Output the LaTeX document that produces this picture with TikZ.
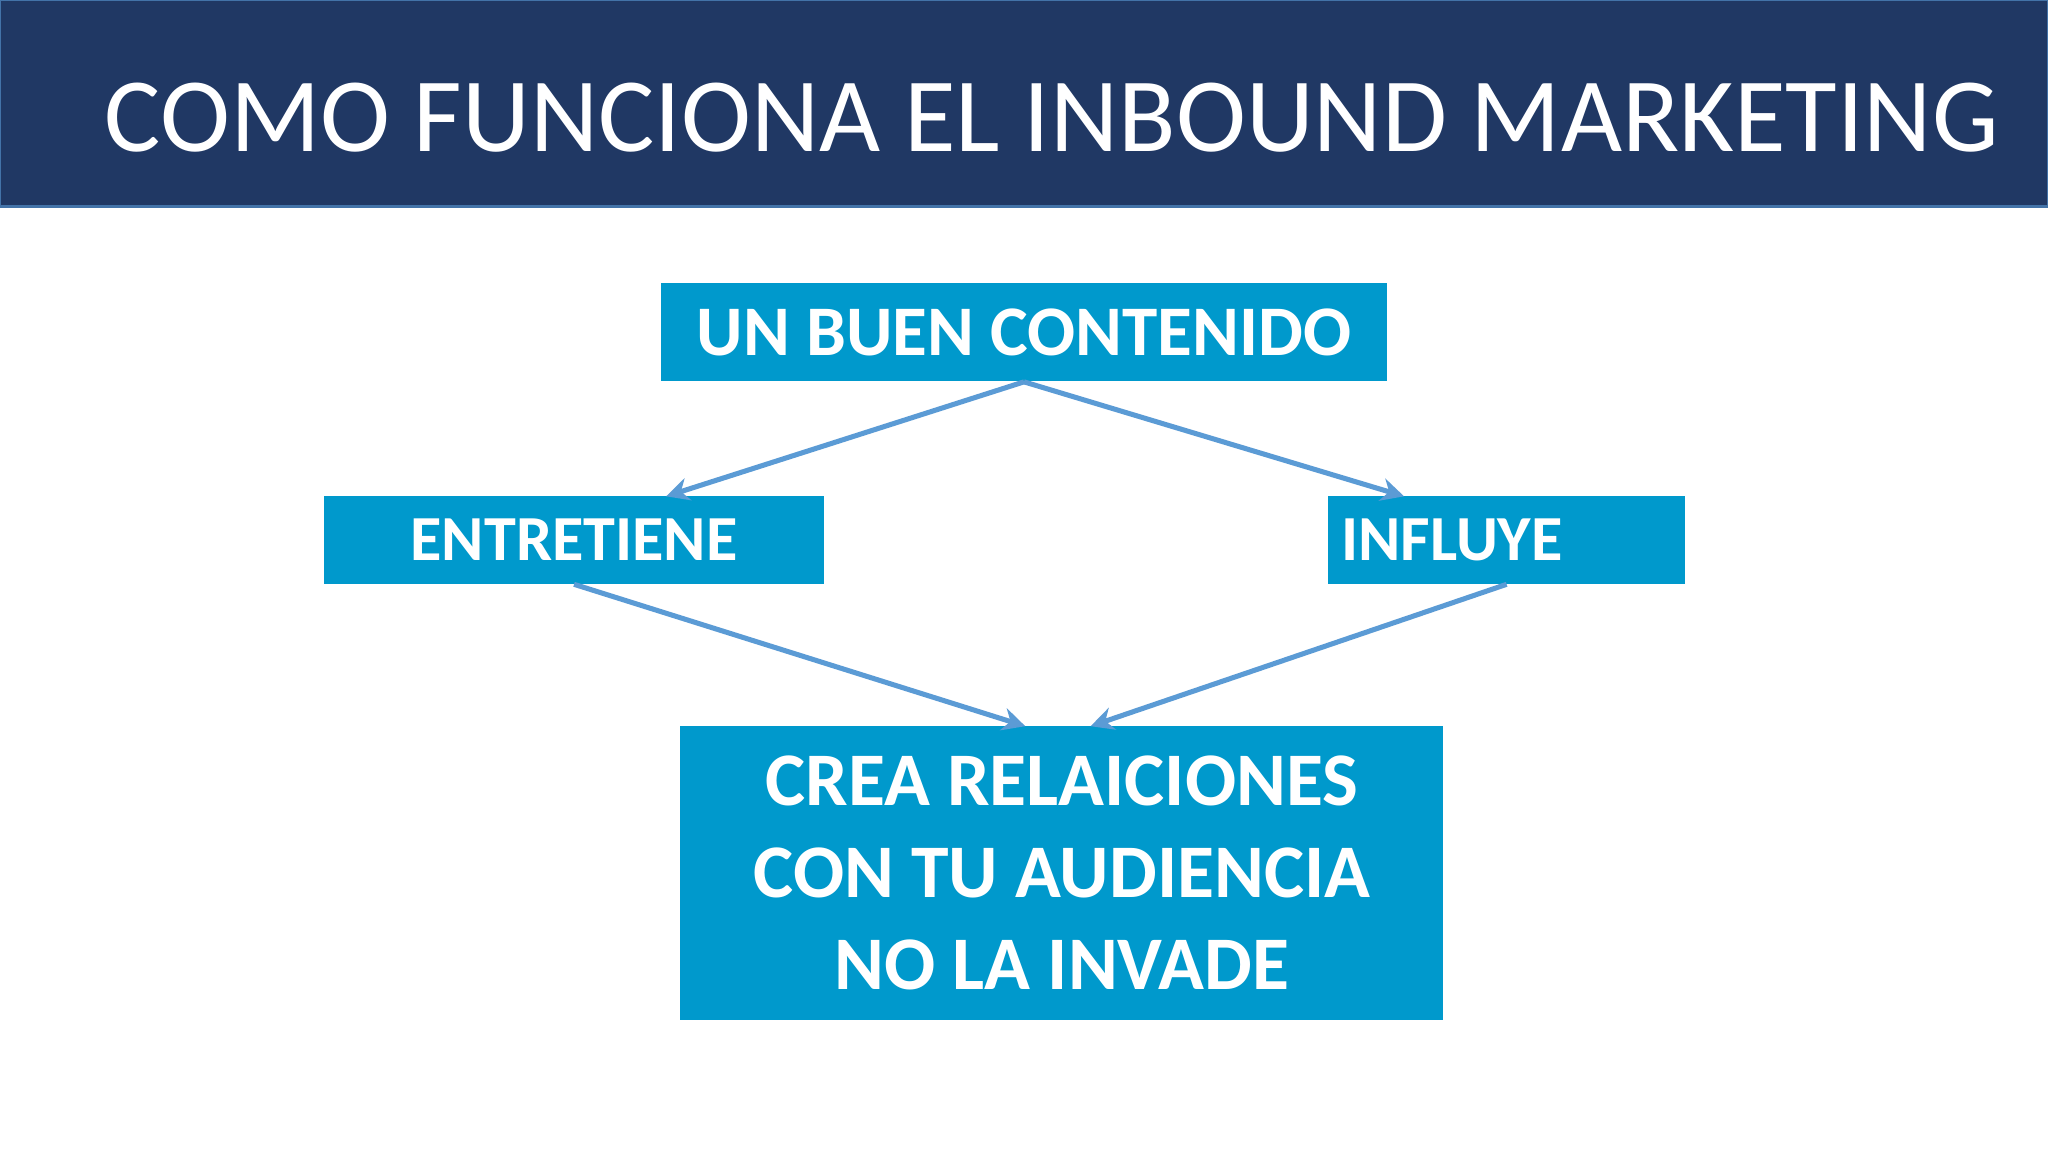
\documentclass[tikz,border=0pt]{standalone}
\usepackage{fontspec}
\setmainfont{Carlito}
\usetikzlibrary{arrows.meta}
\definecolor{navy}{HTML}{203864}
\definecolor{boxc}{HTML}{0099CC}
\definecolor{arr}{HTML}{5B9BD5}
\begin{document}
\begin{tikzpicture}[x=0.02cm,y=-0.02cm,
  bx/.style={fill=boxc,text=white,font=\bfseries,inner sep=0pt,align=center},
  con/.style={draw=arr,line width=2.2pt,-{Stealth[length=10pt,width=10pt]}}]
\useasboundingbox (0,0) rectangle (1568,882);
\fill[white] (0,0) rectangle (1568,882);
\fill[navy,draw=arr!60!navy,line width=1pt] (0,0) rectangle (1568,158);
\node[anchor=west,text=white,font=\fontsize{46}{50}\selectfont] (title) at (74,90) {COMO FUNCIONA EL INBOUND MARKETING};
\node[bx,minimum width=556*0.02cm,minimum height=75*0.02cm,font=\bfseries\fontsize{31}{34}\selectfont] (top) at (784,254.5) {UN BUEN CONTENIDO};
\node[bx,minimum width=383*0.02cm,minimum height=67*0.02cm,font=\bfseries\fontsize{28}{30}\selectfont] (left) at (439.5,413.5) {ENTRETIENE};
\node[bx,minimum width=273*0.02cm,minimum height=67*0.02cm,font=\bfseries\fontsize{28}{30}\selectfont,text width=273*0.02cm-0.4cm,align=left] (right) at (1153.5,413.5) {INFLUYE};
\node[bx,minimum width=584*0.02cm,minimum height=225*0.02cm,font=\bfseries\fontsize{33}{40}\selectfont] (bot) at (813,668.5) {CREA RELAICIONES\\CON TU AUDIENCIA\\NO LA INVADE};
\coordinate (t1) at (510,380);
\coordinate (t2) at (1075,380);
\coordinate (b1) at (785,556);
\coordinate (b2) at (835,556);
\draw[con] (top.south) -- (t1);
\draw[con] (top.south) -- (t2);
\draw[con] (left.south) -- (b1);
\draw[con] (right.south) -- (b2);
\end{tikzpicture}
\end{document}
